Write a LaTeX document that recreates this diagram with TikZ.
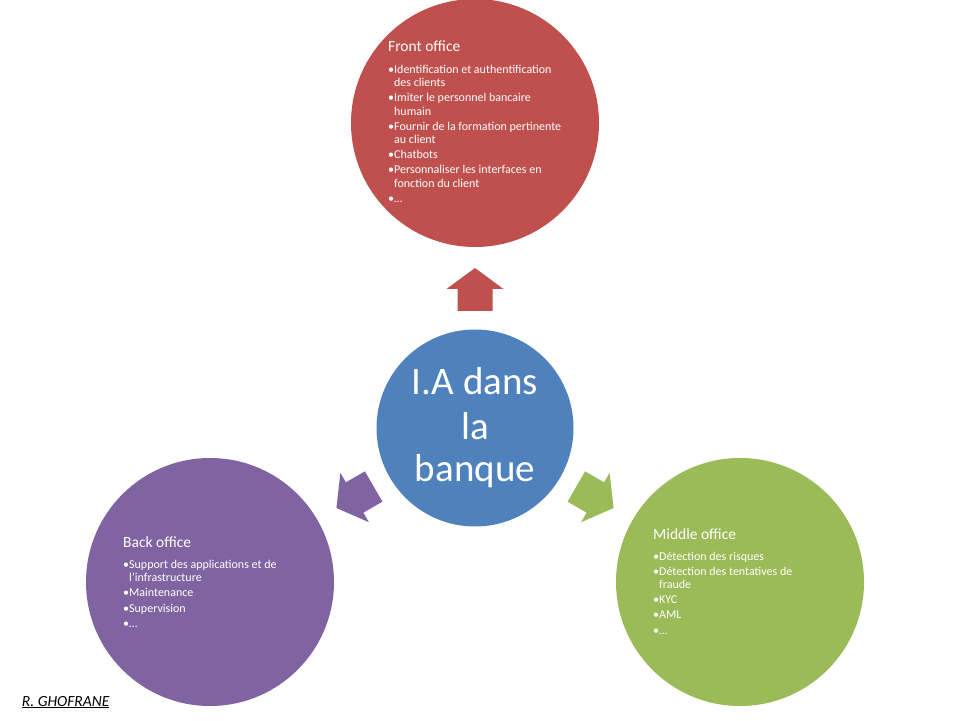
\documentclass[tikz,border=0pt]{standalone}
\usepackage{fontspec}
\setmainfont{Carlito}
\definecolor{cred}{HTML}{C0504D}
\definecolor{cblue}{HTML}{4F81BD}
\definecolor{cpurple}{HTML}{8064A2}
\definecolor{cgreen}{HTML}{9BBB59}
\newcommand{\cnt}{\hphantom{•}}
\begin{document}
\begin{tikzpicture}[x=1pt,y=1pt,
  bigcircle/.style={circle,inner sep=0pt,minimum size=248pt},
  ttl/.style={anchor=base west,inner sep=0pt,text=white,font=\fontsize{15.5}{18}\selectfont},
  itm/.style={anchor=base west,inner sep=0pt,text=white,font=\fontsize{12}{13}\selectfont},
  ctr/.style={anchor=base,inner sep=0pt,text=white,font=\fontsize{39}{44}\selectfont},
  blockarrow/.pic={\fill (-17.5,117) -- (-17.5,139) -- (-28.5,139) -- (0,160) -- (28.5,139) -- (17.5,139) -- (17.5,117) -- cycle;}]
\useasboundingbox (0,0) rectangle (960,720);
\fill[white] (0,0) rectangle (960,720);
% circles
\node[bigcircle,fill=cred] (front) at (475,597) {};
\node[bigcircle,fill=cpurple] (back) at (210,138) {};
\node[bigcircle,fill=cgreen] (middle) at (740,138) {};
\node[circle,inner sep=0pt,minimum size=197pt,fill=cblue] (ia) at (475,292) {};
% block arrows
\pic[cred] at (ia.center) {blockarrow};
\pic[cpurple,rotate=120] at (ia.center) {blockarrow};
\pic[cgreen,rotate=-120] at (ia.center) {blockarrow};
% center text
\node[ctr] (ia1) at (475,325) {I.A dans};
\node[ctr] (ia2) at (475,280) {la};
\node[ctr] (ia3) at (475,238.3) {banque};
% front office
\begin{scope}[shift={(388,668.3)}]
\node[ttl] (ft) at (0,0) {Front office};
\node[itm] (f1) at (0,-21.6) {•Identification et authentification};
\node[itm] (f2) at (0,-34.9) {\cnt des clients};
\node[itm] (f3) at (0,-50.1) {•Imiter le personnel bancaire};
\node[itm] (f4) at (0,-63.4) {\cnt humain};
\node[itm] (f5) at (0,-78.6) {•Fournir de la formation pertinente};
\node[itm] (f6) at (0,-91.9) {\cnt au client};
\node[itm] (f7) at (0,-107.1) {•Chatbots};
\node[itm] (f8) at (0,-122.3) {•Personnaliser les interfaces en};
\node[itm] (f9) at (0,-135.6) {\cnt fonction du client};
\node[itm] (f10) at (0,-150.8) {•…};
\end{scope}
% back office
\begin{scope}[shift={(123,172.7)}]
\node[ttl] (bt) at (0,0) {Back office};
\node[itm] (b1) at (0,-21) {•Support des applications et de};
\node[itm] (b2) at (0,-34.3) {\cnt l’infrastructure};
\node[itm] (b3) at (0,-49.5) {•Maintenance};
\node[itm] (b4) at (0,-64.7) {•Supervision};
\node[itm] (b5) at (0,-79.9) {•…};
\end{scope}
% middle office
\begin{scope}[shift={(653,180.7)}]
\node[ttl] (mt) at (0,0) {Middle office};
\node[itm] (m1) at (0,-20.7) {•Détection des risques};
\node[itm] (m2) at (0,-35.9) {•Détection des tentatives de};
\node[itm] (m3) at (0,-49.2) {\cnt fraude};
\node[itm] (m4) at (0,-64.4) {•KYC};
\node[itm] (m5) at (0,-79.6) {•AML};
\node[itm] (m6) at (0,-94.8) {•…};
\end{scope}
% author
\node[anchor=base west,inner sep=0pt,font=\fontsize{15.5}{18}\selectfont\itshape] (auth) at (21.7,14) {\underline{R. GHOFRANE}};
\end{tikzpicture}
\end{document}
